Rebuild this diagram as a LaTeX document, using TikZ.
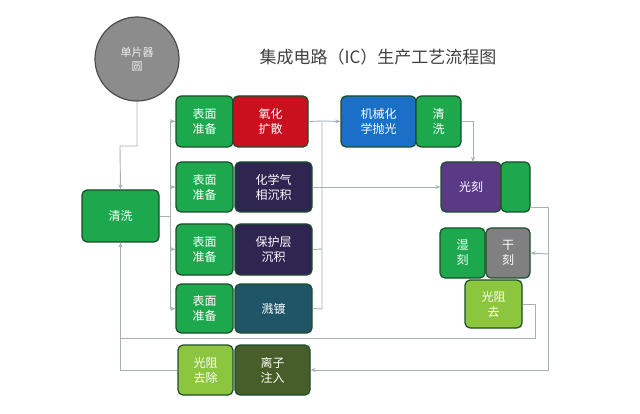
\documentclass[tikz,border=0pt]{standalone}
\usepackage{fontspec}
\setmainfont{Noto Sans CJK SC}
\usetikzlibrary{arrows.meta}
\definecolor{gr}{HTML}{1EA84E}
\definecolor{grd}{HTML}{1A4D2A}
\definecolor{lnc}{HTML}{A8B0B8}
\definecolor{pdk}{HTML}{2E2550}
\definecolor{tl}{HTML}{1F5566}
\definecolor{lg}{HTML}{8CC63F}
\definecolor{ol}{HTML}{485E2A}
\definecolor{bl}{HTML}{1A6FC6}
\definecolor{pu}{HTML}{5A3A86}
\definecolor{rd}{HTML}{C8101E}
\tikzset{
 bx/.style={draw=grd,line width=1.2pt,rounded corners=5pt,text=white,align=center,font=\fontsize{12}{15}\selectfont,inner sep=0pt},
 ln/.style={draw=lnc,line width=0.9pt},
 ar/.style={ln,-{Stealth[length=5pt,width=4pt]}}
}
\newcommand{\bxat}[7]{\node[bx,fill=#6,minimum width=#4-#2,minimum height=#5-#3] (#1) at ({(#2+#4)/2},{(#3+#5)/2}) {#7};}
\begin{document}
\begin{tikzpicture}[x=1pt,y=-1pt]
\useasboundingbox[fill=white] (0,0) rectangle (640,414);
\node[circle,draw=black!70,line width=1.2pt,fill=gray!90,minimum size=84,text=white!85!gray,align=center,font=\fontsize{11}{14}\selectfont] (w) at (137,59) {单片器\\圆};
\node[font=\fontsize{17}{20}\selectfont,text=black!75] (t) at (378,57) {集成电路（IC）生产工艺流程图};
\bxat{cl}{82}{190}{159}{242}{gr}{清洗}
\bxat{s1}{176}{96}{233}{147}{gr}{表面\\准备}
\bxat{p1}{233}{96}{308}{147}{rd}{氧化\\扩散}
\bxat{s2}{176}{162}{233}{212}{gr}{表面\\准备}
\bxat{p2}{235}{162}{312}{212}{pdk}{化学气\\相沉积}
\bxat{s3}{176}{224}{233}{275}{gr}{表面\\准备}
\bxat{p3}{235}{224}{312}{275}{pdk}{保护层\\沉积}
\bxat{s4}{176}{284}{233}{333}{gr}{表面\\准备}
\bxat{p4}{235}{284}{312}{333}{tl}{溅镀}
\bxat{r1}{178}{345}{233}{395}{lg}{光阻\\去除}
\bxat{r2}{235}{345}{310}{395}{ol}{离子\\注入}
\bxat{m1}{341}{96}{416}{147}{bl}{机械化\\学抛光}
\bxat{m2}{416}{96}{461}{147}{gr}{清\\洗}
\bxat{g1}{441}{162}{501}{212}{pu}{光刻}
\bxat{g2}{501}{162}{530}{212}{gr}{}
\bxat{e1}{440}{228}{485}{278}{gr}{湿\\刻}
\bxat{e2}{486}{228}{530}{278}{gray}{干\\刻}
\bxat{e3}{465}{280}{522}{328}{lg}{光阻\\去}
% connectors
\draw[ar] (w.south) |- (120,146) -- (cl.north);
\draw[ln] (cl.east) -- (170,216);
\draw[ln] (170,121) -- (170,309);
\draw[ar] (170,121) -- (s1.west);
\draw[ar] (170,187) -- (s2.west);
\draw[ar] (170,249) -- (s3.west);
\draw[ar] (170,309) -- (s4.west);
\draw[ln] (p1.east) -- (322,121);
\draw[ln] (p3.east) -- (322,249);
\draw[ln] (p4.east) -- (322,309) -- (322,121);
\draw[ar] (322,121) -- (m1.west);
\draw[ar] (p2.east) -- (g1.west);
\draw[ar] (m2.east) -| (473,162);
\draw[ar] (530,207) -| (548,370) -- (r2.east);
\draw[ar] (548,254) -- (e2.east);
\draw[ar] (e3.east) -| (535,338) -| (cl.south);
\draw[ln] (r1.west) -- (120,370) -- (120,338);
\end{tikzpicture}
\end{document}
